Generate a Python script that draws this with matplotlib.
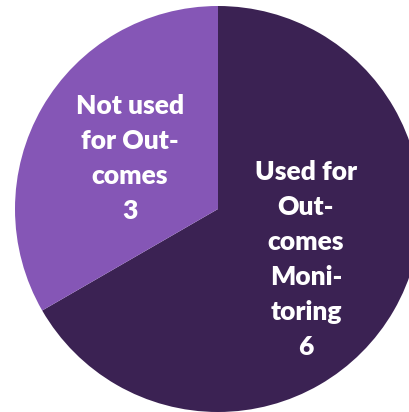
import matplotlib
matplotlib.use('Agg')
import matplotlib.pyplot as plt

# Count of services by whether the data feeds outcomes monitoring
labels = ['Used for\nOut-\ncomes\nMoni-\ntoring', 'Not used\nfor Out-\ncomes']
counts = [6, 3]
colors = ['#3b2253', '#8556b6']

fig = plt.figure(figsize=(4.10, 4.12), dpi=100)
ax = fig.add_axes([0, 0, 1, 1])

wedges, texts = ax.pie(
    counts,
    labels=[f'{l}\n{c}' for l, c in zip(labels, counts)],
    colors=colors,
    startangle=90,
    counterclock=False,
    radius=203,
    center=(218, 203),
    labeldistance=0.5,
    frame=True,
)
ax.set_xlim(0, 410)
ax.set_ylim(0, 412)
ax.set_aspect('equal')
ax.axis('off')

for t in texts:
    t.set_ha('center')
    t.set_va('center')
    t.set_color('white')
    t.set_fontfamily('Lato')
    t.set_fontweight('heavy')
    t.set_fontsize(19)
    t.set_linespacing(1.55)

fig.savefig('out.png', dpi=100, facecolor='white')
